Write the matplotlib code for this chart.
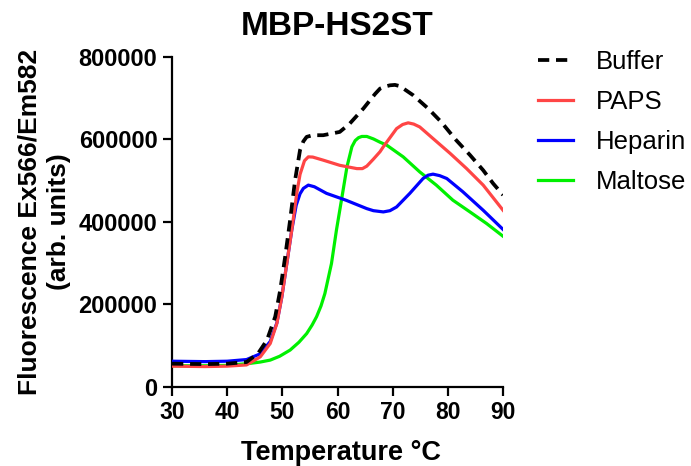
import matplotlib

matplotlib.use("Agg")
import matplotlib.pyplot as plt

plt.rcParams["font.family"] = ["Liberation Sans", "DejaVu Sans"]

# values (temperature in C, fluorescence in arb. units)
buffer_t = [30, 36, 40, 43.5, 45.6, 47.2, 48.7, 49.6, 50.5, 51.4, 52.3, 53.2, 53.8,
            54.4, 55.5, 57.4, 60.4, 62.2, 64.7, 65.9, 66.8, 67.7, 68.6, 69.5, 70.4,
            71.3, 73.7, 76.4, 78.8, 81.5, 84.0, 86.4, 88.2, 90]
buffer_f = [56000, 55000, 56000, 60000, 81000, 113000, 170000, 234000, 315000, 404000,
            501000, 574000, 595000, 606000, 610000, 610000, 618000, 638000, 675000,
            695000, 710000, 723000, 728000, 731000, 732000, 729000, 707000, 675000,
            642000, 598000, 562000, 525000, 493000, 465000]

paps_t = [30, 36, 40, 43.5, 46.0, 47.8, 49.0, 49.9, 50.8, 51.7, 52.6, 53.2, 54.0, 54.7,
          55.5, 57.4, 60.4, 63.5, 64.5, 65.3, 66.5, 67.7, 68.3, 70.7, 71.8, 72.8, 73.8,
          74.9, 77.3, 80.4, 83.4, 86.4, 90]
paps_f = [50000, 49000, 50000, 53000, 72700, 105000, 153700, 218000, 299000, 380000,
          469000, 515000, 548000, 557500, 557000, 549500, 537000, 529000, 529000, 535000,
          552000, 570000, 582000, 626000, 636000, 640000, 637000, 630000, 602000, 566000,
          529000, 489000, 428000]

heparin_t = [30, 36, 40, 43.5, 46.0, 47.8, 49.0, 49.9, 50.8, 51.7, 52.5, 53.2, 53.8,
             54.7, 55.8, 58.0, 61.6, 65.3, 66.5, 67.7, 68.3, 69.5, 70.7, 73.1, 75.5,
             76.4, 77.3, 78.5, 79.8, 82.7, 86.4, 90]
heparin_f = [62000, 61000, 62000, 66000, 80000, 110000, 155000, 218000, 299000, 380000,
             440000, 468000, 481000, 489000, 485000, 469000, 452000, 432000, 427000,
             425000, 424000, 427000, 436000, 469000, 505000, 513000, 515600, 512000,
             505000, 473000, 428000, 381500]

maltose_t = [30, 36, 40, 44.1, 46.0, 47.8, 49.5, 51.4, 53.0, 54.4, 55.4, 56.2, 57.0,
             57.7, 58.9, 59.8, 60.8, 61.7, 62.6, 63.2, 63.8, 64.4, 65.3, 66.5, 67.7,
             68.9, 71.9, 74.9, 77.9, 80.9, 84.0, 87.0, 90]
maltose_f = [51000, 51000, 52000, 56700, 60000, 64700, 74000, 89000, 108000, 129000,
             150000, 170000, 196000, 226000, 299000, 380000, 460000, 533000, 582000,
             597000, 604000, 607000, 607000, 601000, 593000, 586000, 557500, 521000,
             489000, 452500, 424000, 396000, 365000]

fig = plt.figure(figsize=(6.91, 4.66), dpi=100)
ax = fig.add_axes([0.249, 0.170, 0.479, 0.708])

lw = 2.3
ax.plot(buffer_t, buffer_f, color="black", lw=2.7, ls=(0, (3, 1.8)), label="Buffer", zorder=5)
ax.plot(paps_t, paps_f, color="#FF4545", lw=lw, label="PAPS", zorder=4,
        solid_joinstyle="round")
ax.plot(heparin_t, heparin_f, color="#0000FF", lw=lw, label="Heparin", zorder=3,
        solid_joinstyle="round")
ax.plot(maltose_t, maltose_f, color="#00F000", lw=lw, label="Maltose", zorder=2,
        solid_joinstyle="round")

ax.set_xlim(30, 90)
ax.set_ylim(0, 800000)
ax.set_xticks(range(30, 91, 10))
ax.set_yticks(range(0, 800001, 200000))
ax.set_yticklabels([str(v) for v in range(0, 800001, 200000)])

for side in ("top", "right"):
    ax.spines[side].set_visible(False)
for side in ("left", "bottom"):
    ax.spines[side].set_linewidth(1.6)
ax.tick_params(width=1.6, length=6.5)
ax.tick_params(axis="x", pad=4, labelsize=16.5)
ax.tick_params(axis="y", pad=4, labelsize=17)
for lab in ax.get_xticklabels() + ax.get_yticklabels():
    lab.set_fontweight("bold")

ax.set_xlabel("Temperature \u00b0C", fontsize=19.5, fontweight="bold")
ax.xaxis.set_label_coords(0.51, -0.162)
ax.set_ylabel("Fluorescence Ex566/Em582\n(arb. units)", fontsize=19,
              fontweight="bold", linespacing=1.3)
ax.yaxis.set_label_coords(-0.305, 0.5)
ax.set_title("MBP-HS2ST", fontsize=24, fontweight="bold", pad=16)

fig.legend(loc="upper left", bbox_to_anchor=(0.779, 0.892), frameon=False,
           fontsize=18.5, handlelength=1.36, handletextpad=0.9, labelspacing=0.62,
           borderpad=0, borderaxespad=0)

fig.savefig("out.png", dpi=100)
